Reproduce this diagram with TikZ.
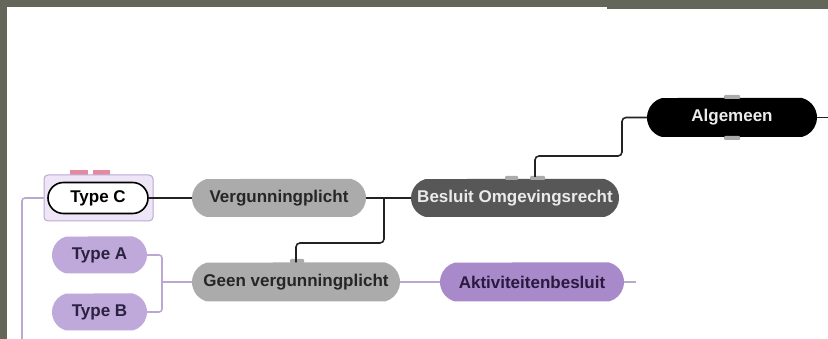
\documentclass[tikz,border=0pt]{standalone}
\usepackage{fontspec}
\setmainfont{Liberation Sans}
\usetikzlibrary{positioning,shapes.misc,calc}
\definecolor{sfondo}{HTML}{65665A}
\definecolor{grigio}{HTML}{ABABAB}
\definecolor{grigioscuro}{HTML}{575757}
\definecolor{lilla}{HTML}{BFA8DA}
\definecolor{viola}{HTML}{A889C9}
\definecolor{lillachiaro}{HTML}{EEE6F6}
\definecolor{lillabordo}{HTML}{BBA8D2}
\definecolor{lineanera}{HTML}{222222}
\definecolor{rosa}{HTML}{E58A9E}

\begin{document}
\begin{tikzpicture}[x=1pt, y=-1pt,
  tema/.style={rounded rectangle, rounded rectangle arc length=150,
    minimum height=38pt, inner sep=0pt,
    font=\bfseries\fontsize{17}{20}\selectfont},
  filo/.style={draw=lineanera, line width=1.6pt, rounded corners=4pt},
  filolilla/.style={draw=lillabordo, line width=1.6pt, rounded corners=3pt},
  linguetta/.style={fill=grigio, rounded corners=1pt}]
% Sfondo e foglio
\fill[sfondo] (0,0) rectangle (828,339);
\fill[white] (7,7) rectangle (828,339);
\fill[sfondo] (607,7) rectangle (828,9);
\useasboundingbox (0,0) rectangle (828,339);

% Gruppo Type C
\fill[rosa] (70,170) rectangle (88,175);
\fill[rosa] (93,170) rectangle (110,175);
\node[draw=lillabordo, fill=lillachiaro, rounded corners=4pt, line width=1pt,
  minimum width=109pt, minimum height=46pt] (gruppoC) at (98.5,198) {};
\node[draw=black, fill=white, line width=1.6pt, rounded rectangle, minimum width=100pt,
  minimum height=31pt, inner sep=0pt, font=\bfseries\fontsize{17}{20}\selectfont] (typeC) at (98,198) {Type C};

% Nodi principali
\node[tema, fill=grigio, text=black!85, minimum width=174pt] (verg) at (279,198) {Vergunningplicht};
\node[tema, fill=grigioscuro, text=white!92!black, minimum width=208pt] (besluit) at (515,198) {Besluit Omgevingsrecht};
\node[tema, fill=black, text=white!92!black, minimum width=170pt, minimum height=39pt] (algemeen) at (732,117.5) {Algemeen};
\node[tema, fill=grigio, text=black!85, minimum width=208pt, minimum height=39pt] (geen) at (296,282) {Geen vergunningplicht};
\node[tema, fill=viola, text={rgb,255:red,42;green,26;blue,64}, minimum width=184pt, minimum height=39pt] (aktiv) at (532,282) {Aktiviteitenbesluit};
\foreach \nome/\y/\lab in {typeA/255/Type A, typeB/312/Type B}{
  \node[tema, fill=lilla, text={rgb,255:red,43;green,33;blue,64}, minimum width=95pt, minimum height=37pt] (\nome) at (99.5,\y) {\lab};
}

% Linguette
\fill[linguetta] (505,176) rectangle (518,180);
\fill[linguetta] (530,176) rectangle (545,180);
\fill[linguetta] (290,259) rectangle (304,263);
\fill[linguetta] (724,95) rectangle (740,99);
\fill[linguetta] (724,136) rectangle (740,140);

% Collegamenti neri
\coordinate (splitV) at (384,198);
\coordinate (bendG) at (296,243);
\coordinate (besluitTop) at (535,177);
\coordinate (bendA) at (622,156);
\coordinate (fineA) at (828,117.5);
\draw[filo] (typeC.east) -- (verg.west);
\draw[filo] (verg.east) -- (besluit.west);
\draw[filo] (splitV) |- (bendG) -- (geen.north);
\draw[filo] (besluitTop) |- (bendA) |- (algemeen.west);
\draw[filo] (algemeen.east) -- (fineA);

% Collegamenti lilla
\coordinate (splitAB) at (162,282);
\coordinate (fineK) at (636,282);
\coordinate (bordoL) at (22,339);
\draw[filolilla] (typeA.east) -| (splitAB) |- (typeB.east);
\draw[filolilla] (splitAB) -- (geen.west);
\draw[filolilla] (geen.east) -- (aktiv.west);
\draw[filolilla] (aktiv.east) -- (fineK);
\draw[filolilla] (gruppoC.west) -| (bordoL);
\end{tikzpicture}
\end{document}
